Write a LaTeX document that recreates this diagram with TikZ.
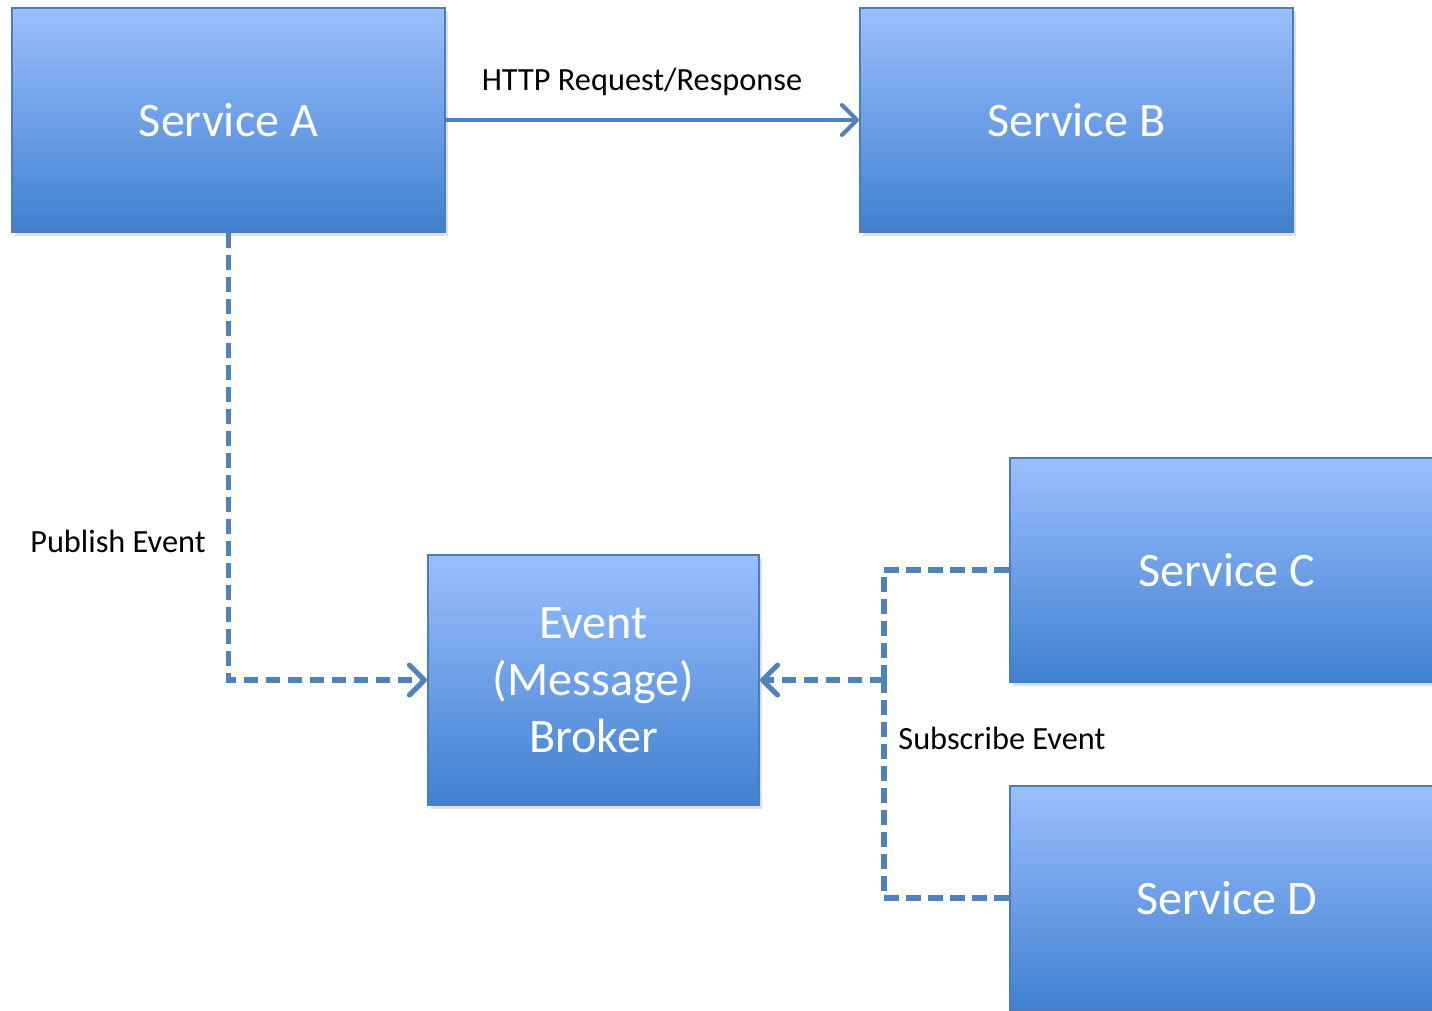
\documentclass[tikz,border=0pt]{standalone}
\usepackage{fontspec}
\setmainfont{Carlito}
\usepackage{xcolor}
\definecolor{box-top}{HTML}{9ABFFF}
\definecolor{box-bottom}{HTML}{4080CF}
\definecolor{box-line}{HTML}{4A7EBB}
\definecolor{link-blue}{HTML}{4F81BD}
\usetikzlibrary{arrows.meta,shadows}

\tikzset{
  service/.style={rectangle, draw=box-line, line width=0.6pt,
    top color=box-top, bottom color=box-bottom,
    minimum width=4.33cm, minimum height=2.24cm,
    drop shadow={opacity=0.25, shadow xshift=0.03cm, shadow yshift=-0.04cm},
    text=white, font=\fontsize{13.7}{16.3}\selectfont, align=center},
  link/.style={draw=link-blue, line width=1.15pt},
  pubsub/.style={link, line width=1.45pt, dash pattern=on 0.145cm off 0.075cm},
  tip/.style={-{Straight Barb[length=0.15cm, width=0.3cm, round]}},
  caption/.style={font=\fontsize{9.2}{11}\selectfont, text=black}
}

\begin{document}
\begin{tikzpicture}

  % Page frame
  \useasboundingbox (0,0) rectangle (14.32,-10.10);
  \clip (0,0) rectangle (14.32,-10.10);

  % The services
  \node[service] (serviceA) at (2.285,-1.20) {Service A};
  \node[service] (serviceB) at (10.765,-1.20) {Service B};
  \node[service] (serviceC) at (12.265,-5.70) {Service C};
  \node[service] (serviceD) at (12.265,-8.98) {Service D};

  % The broker
  \node[service, minimum width=3.31cm, minimum height=2.50cm] (broker) at (5.935,-6.80)
    {Event\\(Message)\\Broker};

  % Request from A to B
  \draw[link, tip] (serviceA.east) -- (serviceB.west);
  \node[caption] (httpLabel) at (6.42,-0.82) {HTTP Request/Response};

  % Publishing
  \draw[pubsub, tip] (serviceA.south) |- (broker.west);
  \node[caption] (publishLabel) at (1.18,-5.41) {Publish Event};

  % Subscribing
  \coordinate (hub) at (8.84,-6.80);
  \draw[pubsub] (serviceC.west) -| (hub);
  \draw[pubsub] (serviceD.west) -| (hub);
  \draw[pubsub, tip] (hub) -- (broker.east);
  \node[caption, anchor=west] (subscribeLabel) at (8.86,-7.38) {Subscribe Event};

\end{tikzpicture}
\end{document}
